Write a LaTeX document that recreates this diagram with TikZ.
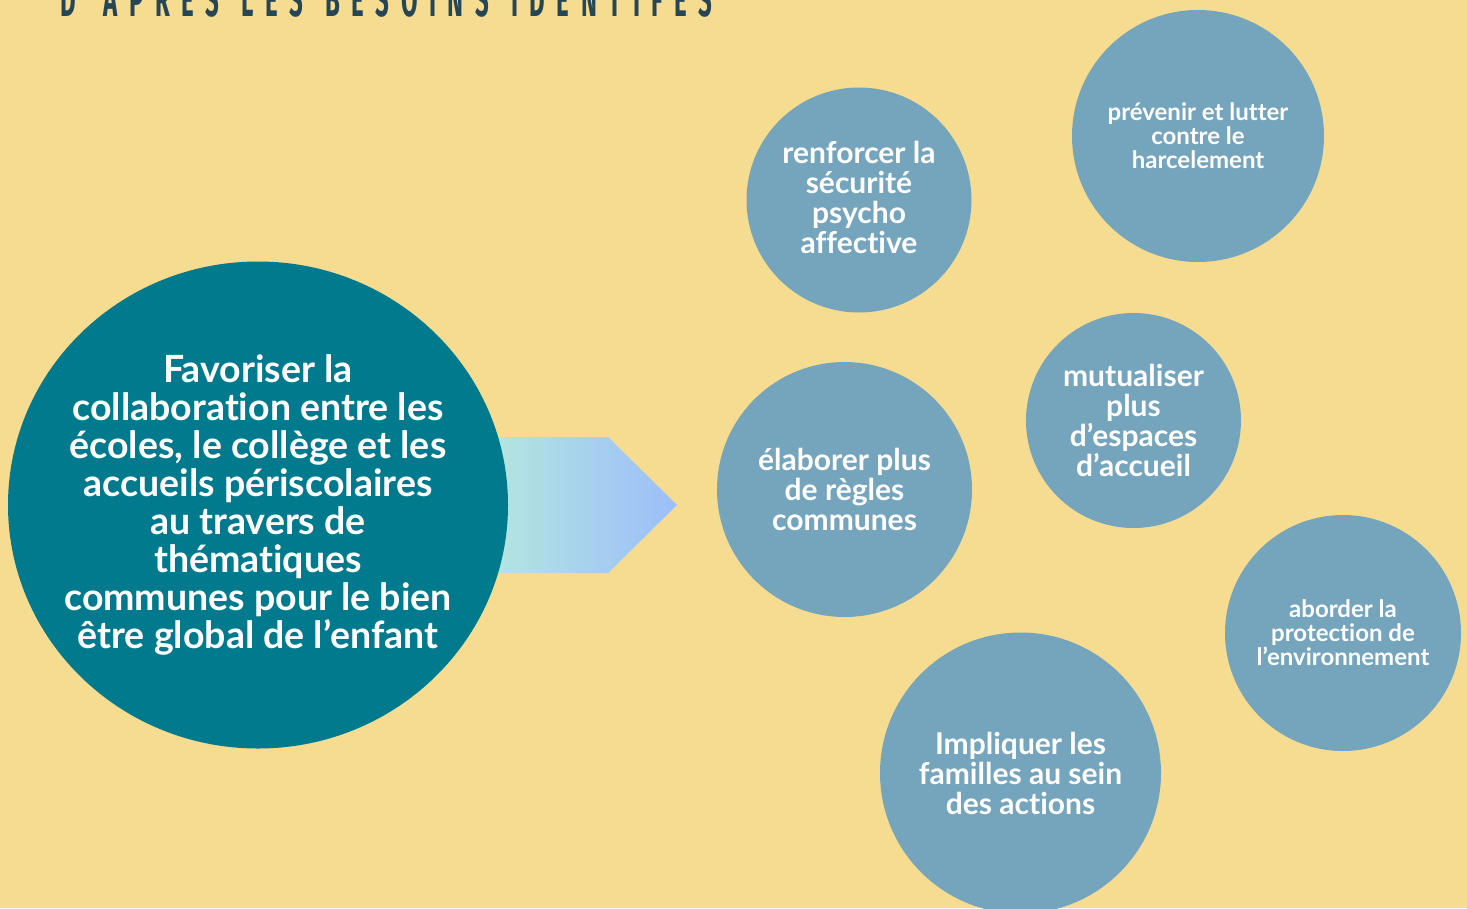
\documentclass[tikz,border=0pt]{standalone}
\usepackage{fontspec}
\setmainfont{Lato}[Ligatures=NoCommon]
\newfontfamily\titlefont{Fira Sans}[FakeStretch=0.5,LetterSpace=24,WordSpace=1.3]
\usetikzlibrary{shapes.geometric}
\definecolor{bg}{RGB}{246,220,144}
\definecolor{teal}{RGB}{0,122,140}
\definecolor{bubble}{RGB}{117,165,188}
\definecolor{arrowA}{RGB}{179,229,224}
\definecolor{arrowB}{RGB}{155,190,250}
\definecolor{titlecol}{RGB}{38,70,86}
\tikzset{
  bub/.style={circle, fill=bubble, inner sep=0pt, minimum size=#1},
  btl/.style={text=white, align=center, font=\bfseries\fontsize{30}{30}\selectfont},
  bts/.style={text=white, align=center, font=\bfseries\fontsize{24}{24}\selectfont},
}
\begin{document}
\begin{tikzpicture}[x=1pt,y=-1pt]
\clip (0,0) rectangle (1467,908);
\fill[bg] (0,0) rectangle (1467,908);
\node[anchor=base west, inner sep=0pt, text=titlecol, font=\titlefont\bfseries\fontsize{48}{48}\selectfont] (title) at (60,16) {D'APRÈS LES BESOINS IDENTIFÉS};
% arrow
\shade[left color=arrowA, right color=arrowB] (497,437) -- (608,437) -- (677,505) -- (608,573) -- (497,573) -- cycle;
% big circle
\node[ellipse, fill=teal, inner sep=0pt, minimum width=500, minimum height=487] (main) at (258,505) {};
\node[text=white, align=center, font=\bfseries\fontsize{37.5}{38}\selectfont] (maint) at (main.center) {Favoriser la\\collaboration entre les\\écoles, le collège et les\\accueils périscolaires\\au travers de\\thématiques\\communes pour le bien\\être global de l’enfant};
% bubbles
\node[bub=225] (b1) at (859,200) {};
\node[btl] (t1) at ([yshift=3]b1.center) {renforcer la\\sécurité\\psycho\\affective};
\node[bub=252] (b2) at (1198,136) {};
\node[bts] (t2) at (b2.center) {prévenir et lutter\\contre le\\harcelement};
\node[bub=215] (b3) at (1133.5,420.5) {};
\node[btl] (t3) at (b3.center) {mutualiser\\plus\\d’espaces\\d’accueil};
\node[bub=255] (b4) at (844.5,489.5) {};
\node[btl] (t4) at (b4.center) {élaborer plus\\de règles\\communes};
\node[bub=236] (b5) at (1343,633) {};
\node[bts] (t5) at (b5.center) {aborder la\\protection de\\l’environnement};
\node[bub=281] (b6) at (1020.5,773) {};
\node[btl] (t6) at (b6.center) {Impliquer les\\familles au sein\\des actions};
\end{tikzpicture}
\end{document}
